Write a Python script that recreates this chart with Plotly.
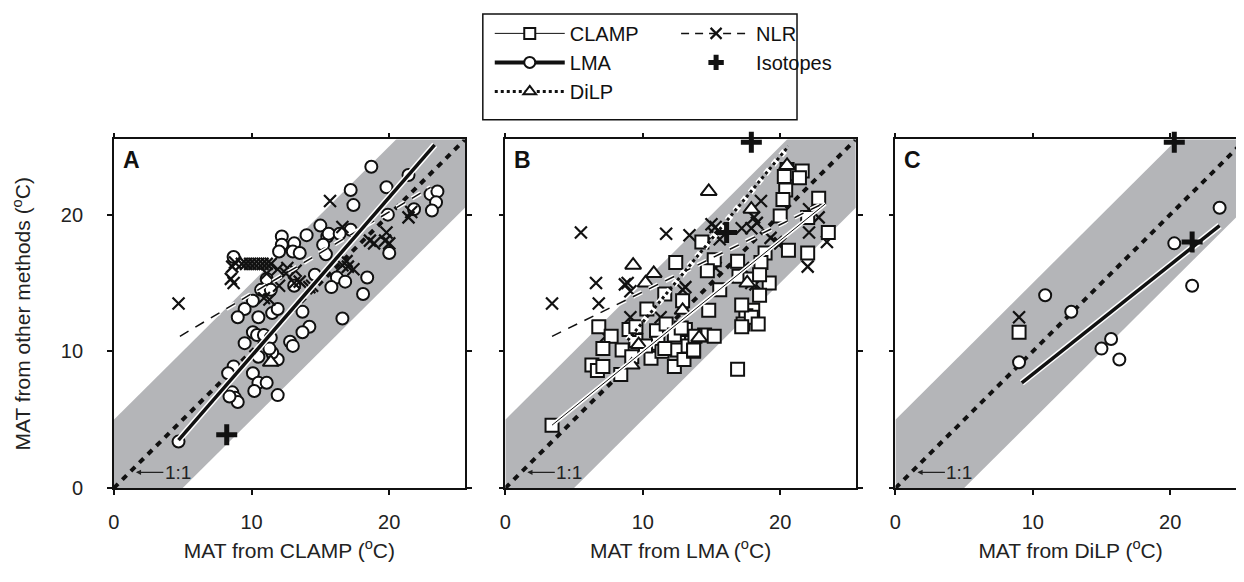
import plotly.graph_objects as go

# ---------------- data ----------------
# Panel A: x = MAT from CLAMP
a_lma_x = [4.7, 18.7, 21.4, 17.2, 19.8, 17.4, 23.0, 23.5, 23.4, 23.1, 21.8, 19.9, 15.0, 14.0,
           12.2, 13.1, 12.2, 12.0, 13.0, 13.5, 15.5, 15.6, 17.2, 16.4, 15.2, 15.4, 8.7, 20.0,
           14.6, 16.2, 16.8, 15.8, 18.4, 18.1, 13.1, 11.1, 10.7, 11.4, 10.1, 9.5, 9.0, 10.5,
           11.5, 11.9, 13.7, 16.6, 14.2, 13.7, 12.8, 13.0, 9.5, 10.1, 10.4, 10.9, 11.4, 10.5,
           11.6, 11.9, 11.5, 11.3, 8.7, 8.3, 10.1, 10.5, 11.1, 10.2, 11.9, 8.6, 8.8, 9.0, 8.4]
a_lma_y = [3.4, 23.5, 22.9, 21.8, 22.0, 20.7, 21.5, 21.7, 20.9, 20.3, 20.4, 20.0, 19.2, 18.5,
           18.4, 17.9, 17.8, 17.3, 17.3, 17.2, 18.4, 18.6, 18.9, 18.6, 17.8, 17.1, 16.9, 17.2,
           15.6, 15.4, 15.1, 14.7, 15.4, 14.2, 14.8, 15.3, 14.5, 14.5, 13.7, 13.1, 12.5, 12.5,
           12.8, 13.1, 12.9, 12.4, 11.8, 11.4, 10.7, 10.4, 10.6, 11.4, 11.2, 11.2, 11.0, 9.6,
           9.6, 9.4, 9.9, 10.2, 8.9, 8.4, 8.4, 7.7, 7.7, 7.1, 6.8, 7.0, 6.6, 6.3, 6.7]
a_nlr_x = [4.7, 15.7, 16.6, 18.6, 18.9, 19.8, 19.7, 20.0, 21.4, 21.6, 16.6, 17.0, 17.4, 16.9,
           8.6, 8.8, 8.5, 8.7, 9.3, 9.6, 9.9, 10.2, 10.5, 10.8, 11.1, 11.4, 11.1, 11.9, 12.5,
           13.2, 12.6, 12.0, 11.3, 10.9, 13.1, 13.5, 14.2, 14.4]
a_nlr_y = [13.5, 21.0, 19.1, 18.1, 17.9, 18.7, 18.1, 17.9, 19.8, 20.2, 16.3, 16.2, 16.0, 16.6,
           16.2, 16.5, 15.3, 15.0, 16.4, 16.4, 16.4, 16.4, 16.4, 16.4, 16.4, 16.4, 15.7, 16.0,
           15.7, 15.9, 16.1, 14.8, 13.8, 13.9, 15.0, 15.1, 14.7, 14.8]
a_dilp_x = [11.4]
a_dilp_y = [9.2]
a_iso_x = [8.2]
a_iso_y = [3.9]
a_lma_fit_x = [4.7, 23.3]
a_lma_fit_y = [3.5, 25.1]
a_nlr_fit_x = [4.8, 23.0]
a_nlr_fit_y = [11.1, 22.0]

# Panel B: x = MAT from LMA
b_clamp_x = [3.4, 20.5, 21.0, 21.6, 21.4, 20.3, 20.4, 20.2, 22.8, 20.0, 22.0, 23.5, 22.0, 20.6,
             18.9, 18.6, 19.2, 18.5, 18.0, 17.5, 17.3, 17.9, 18.4, 17.2, 17.2, 16.9, 16.9, 17.0,
             17.8, 18.5, 15.6, 14.8, 14.3, 15.2, 14.7, 12.4, 11.6, 12.9, 10.3, 6.8, 7.7, 7.1,
             8.5, 9.5, 9.0, 9.5, 6.3, 6.7, 7.1, 8.4, 9.2, 10.6, 11.0, 11.1, 11.4, 12.6, 13.1,
             12.5, 13.3, 12.3, 13.0, 13.7, 14.5, 15.2, 11.7, 10.2, 11.6, 12.3, 12.8, 13.8, 13.7]
b_clamp_y = [4.6, 23.3, 23.0, 23.2, 22.7, 22.8, 21.8, 21.1, 21.2, 19.9, 19.8, 18.7, 17.2, 17.4,
             17.2, 16.5, 15.0, 14.1, 13.0, 12.6, 12.0, 12.5, 12.0, 13.4, 11.8, 8.7, 16.6, 15.5,
             15.3, 15.6, 14.5, 13.0, 18.0, 16.7, 15.9, 16.5, 14.2, 13.7, 13.1, 11.8, 11.1, 10.2,
             10.1, 10.8, 11.6, 11.8, 9.0, 8.6, 8.9, 8.3, 9.6, 9.5, 11.5, 10.6, 10.0, 11.3, 11.6,
             10.1, 10.4, 8.9, 9.4, 10.0, 11.2, 11.1, 12.0, 10.4, 10.2, 11.2, 11.7, 11.1, 10.1]
b_nlr_x = [3.4, 5.5, 6.6, 6.8, 11.7, 13.4, 15.3, 15.2, 15.6, 15.0, 18.6, 18.1, 17.2, 17.9, 18.3,
           19.3, 20.0, 19.7, 22.1, 22.8, 22.1, 23.4, 22.0, 12.4, 13.1, 12.9, 8.7, 9.1, 8.9, 9.1,
           11.3, 7.3, 17.3, 17.9, 17.7, 18.2, 15.3]
b_nlr_y = [13.5, 18.7, 15.0, 13.5, 18.6, 18.5, 19.1, 18.6, 18.2, 19.3, 21.0, 19.8, 19.0, 19.0, 19.4,
           18.3, 17.9, 18.0, 20.4, 19.8, 18.7, 18.0, 16.2, 16.5, 14.7, 14.5, 14.9, 14.4, 15.0, 12.5,
           12.5, 11.1, 16.1, 15.0, 15.3, 14.9, 16.1]
b_dilp_x = [14.8, 20.5, 17.9, 9.3, 10.8, 10.2, 12.9, 14.1, 9.2, 17.6, 9.7]
b_dilp_y = [21.7, 23.6, 20.4, 16.3, 15.7, 15.0, 13.0, 11.0, 9.0, 15.0, 10.5]
b_iso_x = [17.9, 16.1]
b_iso_y = [25.3, 18.7]
b_clamp_fit_x = [3.4, 23.3]
b_clamp_fit_y = [4.6, 20.8]
b_nlr_fit_x = [3.4, 23.3]
b_nlr_fit_y = [11.1, 20.9]
b_dilp_fit_x = [8.9, 20.6]
b_dilp_fit_y = [10.8, 25.0]

# Panel C: x = MAT from DiLP
c_lma_x = [23.6, 20.3, 21.6, 10.9, 12.8, 9.0, 15.0, 15.7, 16.3]
c_lma_y = [20.5, 17.9, 14.8, 14.1, 12.9, 9.2, 10.2, 10.9, 9.4]
c_nlr_x = [9.0]
c_nlr_y = [12.5]
c_clamp_x = [9.0]
c_clamp_y = [11.4]
c_iso_x = [20.3, 21.6]
c_iso_y = [25.3, 18.0]
c_lma_fit_x = [9.2, 23.6]
c_lma_fit_y = [7.7, 19.2]

axis_max = 25.5
band_half_width = 5
tick_vals = [0, 10, 20]
x_titles = ["MAT from CLAMP (<sup>o</sup>C)", "MAT from LMA (<sup>o</sup>C)",
            "MAT from DiLP (<sup>o</sup>C)"]
y_title = "MAT from other methods (<sup>o</sup>C)"
panel_letters = ["A", "B", "C"]

# ---------------- styles ----------------
FONT = "Arial, Liberation Sans, Helvetica, sans-serif"
BAND = "#b4b5b8"
sq = dict(symbol="square", size=13, color="white", line=dict(color="#111", width=2))
ci = dict(symbol="circle", size=12, color="white", line=dict(color="#111", width=2))
tr = dict(symbol="triangle-up", size=14, color="white", line=dict(color="#111", width=2))
xx = dict(symbol="x-thin-open", size=12, color="#111", line=dict(color="#111", width=2.2))
pl = dict(symbol="cross-thin-open", size=15, color="#111", line=dict(color="#111", width=5))

fig = go.Figure()
ax_names = [("x", "y"), ("x2", "y2"), ("x3", "y3")]

def add_points(ax, xs, ys, mk, clip=True):
    fig.add_trace(go.Scatter(x=xs, y=ys, mode="markers", marker=mk, xaxis=ax[0], yaxis=ax[1],
                             showlegend=False, cliponaxis=clip, hoverinfo="skip"))

def add_fit(ax, xs, ys, width, dash):
    fig.add_trace(go.Scatter(x=xs, y=ys, mode="lines", line=dict(color="white", width=width + 3, dash=dash),
                             xaxis=ax[0], yaxis=ax[1], showlegend=False, hoverinfo="skip"))
    fig.add_trace(go.Scatter(x=xs, y=ys, mode="lines", line=dict(color="#111", width=width, dash=dash),
                             xaxis=ax[0], yaxis=ax[1], showlegend=False, hoverinfo="skip"))

# background band and 1:1 line in each panel
for ax in ax_names:
    fig.add_trace(go.Scatter(x=[0, axis_max, axis_max, 0],
                             y=[band_half_width, axis_max + band_half_width,
                                axis_max - band_half_width, -band_half_width],
                             fill="toself", fillcolor=BAND, line=dict(width=0), mode="lines",
                             xaxis=ax[0], yaxis=ax[1], showlegend=False, hoverinfo="skip"))
    fig.add_trace(go.Scatter(x=[0, axis_max], y=[0, axis_max], mode="lines",
                             line=dict(color="#111", width=4, dash="6px,6px"),
                             xaxis=ax[0], yaxis=ax[1], showlegend=False, hoverinfo="skip"))

# Panel A
A = ax_names[0]
add_points(A, a_lma_x, a_lma_y, ci)
add_points(A, a_nlr_x, a_nlr_y, xx)
add_points(A, a_dilp_x, a_dilp_y, tr)
add_fit(A, a_nlr_fit_x, a_nlr_fit_y, 1.5, "10px,8px")
add_fit(A, a_lma_fit_x, a_lma_fit_y, 3.5, "solid")
add_points(A, a_iso_x, a_iso_y, pl, clip=False)

# Panel B
B = ax_names[1]
add_points(B, b_nlr_x, b_nlr_y, xx)
add_points(B, b_clamp_x, b_clamp_y, sq)
add_points(B, b_dilp_x, b_dilp_y, tr)
add_fit(B, b_clamp_fit_x, b_clamp_fit_y, 1, "solid")
add_fit(B, b_nlr_fit_x, b_nlr_fit_y, 1.5, "10px,8px")
add_fit(B, b_dilp_fit_x, b_dilp_fit_y, 3, "dot")
add_points(B, b_iso_x, b_iso_y, pl, clip=False)

# Panel C
C = ax_names[2]
add_points(C, c_lma_x, c_lma_y, ci)
add_points(C, c_nlr_x, c_nlr_y, xx)
add_points(C, c_clamp_x, c_clamp_y, sq)
add_fit(C, c_lma_fit_x, c_lma_fit_y, 3.5, "solid")
add_points(C, c_iso_x, c_iso_y, pl, clip=False)

# legend entries
legend_items = [
    ("CLAMP", dict(color="#111", width=1), sq, "lines+markers", "legend"),
    ("LMA", dict(color="#111", width=4), ci, "lines+markers", "legend"),
    ("DiLP", dict(color="#111", width=3, dash="dot"), tr, "lines+markers", "legend"),
    ("NLR", dict(color="#111", width=1.5, dash="8px,6px"), xx, "lines+markers", "legend2"),
    ("Isotopes", dict(color="#111", width=1), pl, "markers", "legend2"),
]
for name, ln, mk, mode, lg in legend_items:
    mk2 = dict(mk)
    mk2["size"] = 11
    fig.add_trace(go.Scatter(x=[None], y=[None], mode=mode, name=name, line=ln, marker=mk2,
                             legend=lg, xaxis="x", yaxis="y"))

# layout
W, H = 1244, 582
x_doms = [[100.7 / W, 455.0 / W], [495.7 / W, 849.3 / W], [889.3 / W, 1242.7 / W]]
y_dom = [(H - 489.3) / H, (H - 134.0) / H]
axis_common = dict(range=[0, axis_max], tickvals=tick_vals, showline=True, linecolor="#111",
                   linewidth=1.5, mirror="ticks", ticks="outside", ticklen=5, tickwidth=1.5,
                   tickcolor="#111", showgrid=False, zeroline=False,
                   tickfont=dict(family=FONT, size=20, color="#222"))
lay = {}
for i, (xa, ya) in enumerate(ax_names):
    xk = "xaxis" if i == 0 else f"xaxis{i+1}"
    yk = "yaxis" if i == 0 else f"yaxis{i+1}"
    lay[xk] = dict(axis_common, domain=x_doms[i], anchor=ya, ticklabelstandoff=10,
                   title=dict(text=x_titles[i], font=dict(family=FONT, size=21, color="#222"),
                              standoff=11))
    yd = dict(axis_common, domain=y_dom, anchor=xa, ticklabelstandoff=20)
    if i == 0:
        yd["title"] = dict(text=y_title, font=dict(family=FONT, size=21, color="#222"), standoff=24)
    else:
        yd["showticklabels"] = False
    lay[yk] = yd
fig.update_layout(**lay)

for i, (xa, ya) in enumerate(ax_names):
    fig.add_annotation(text="<b>%s</b>" % panel_letters[i], xref=f"{xa} domain", yref=f"{ya} domain",
                       x=0.02, y=0.985, xanchor="left", yanchor="top", showarrow=False,
                       font=dict(family=FONT, size=23, color="#111"))
    fig.add_annotation(text="1:1", xref=xa, yref=ya, x=1.6, y=1.15, ax=42, ay=0,
                       showarrow=True, arrowhead=2, arrowsize=0.8, arrowwidth=1.3,
                       arrowcolor="#222", font=dict(family=FONT, size=19, color="#222"))

fig.add_shape(type="rect", xref="paper", yref="paper", x0=473 / W, x1=790 / W,
              y0=(H - 114) / H, y1=(H - 6) / H, line=dict(color="#111", width=1.5))

leg_common = dict(bgcolor="rgba(0,0,0,0)", borderwidth=0, font=dict(family=FONT, size=20, color="#111"),
                  xanchor="left", yanchor="top", itemwidth=70, tracegroupgap=0)
fig.update_layout(
    legend=dict(leg_common, x=480 / W, y=(H - 6) / H),
    legend2=dict(leg_common, x=668 / W, y=(H - 6) / H),
    width=W, height=H, margin=dict(l=0, r=0, t=0, b=0), autosize=False,
    plot_bgcolor="white", paper_bgcolor="white", font=dict(family=FONT),
)
fig.write_html("out.html")
